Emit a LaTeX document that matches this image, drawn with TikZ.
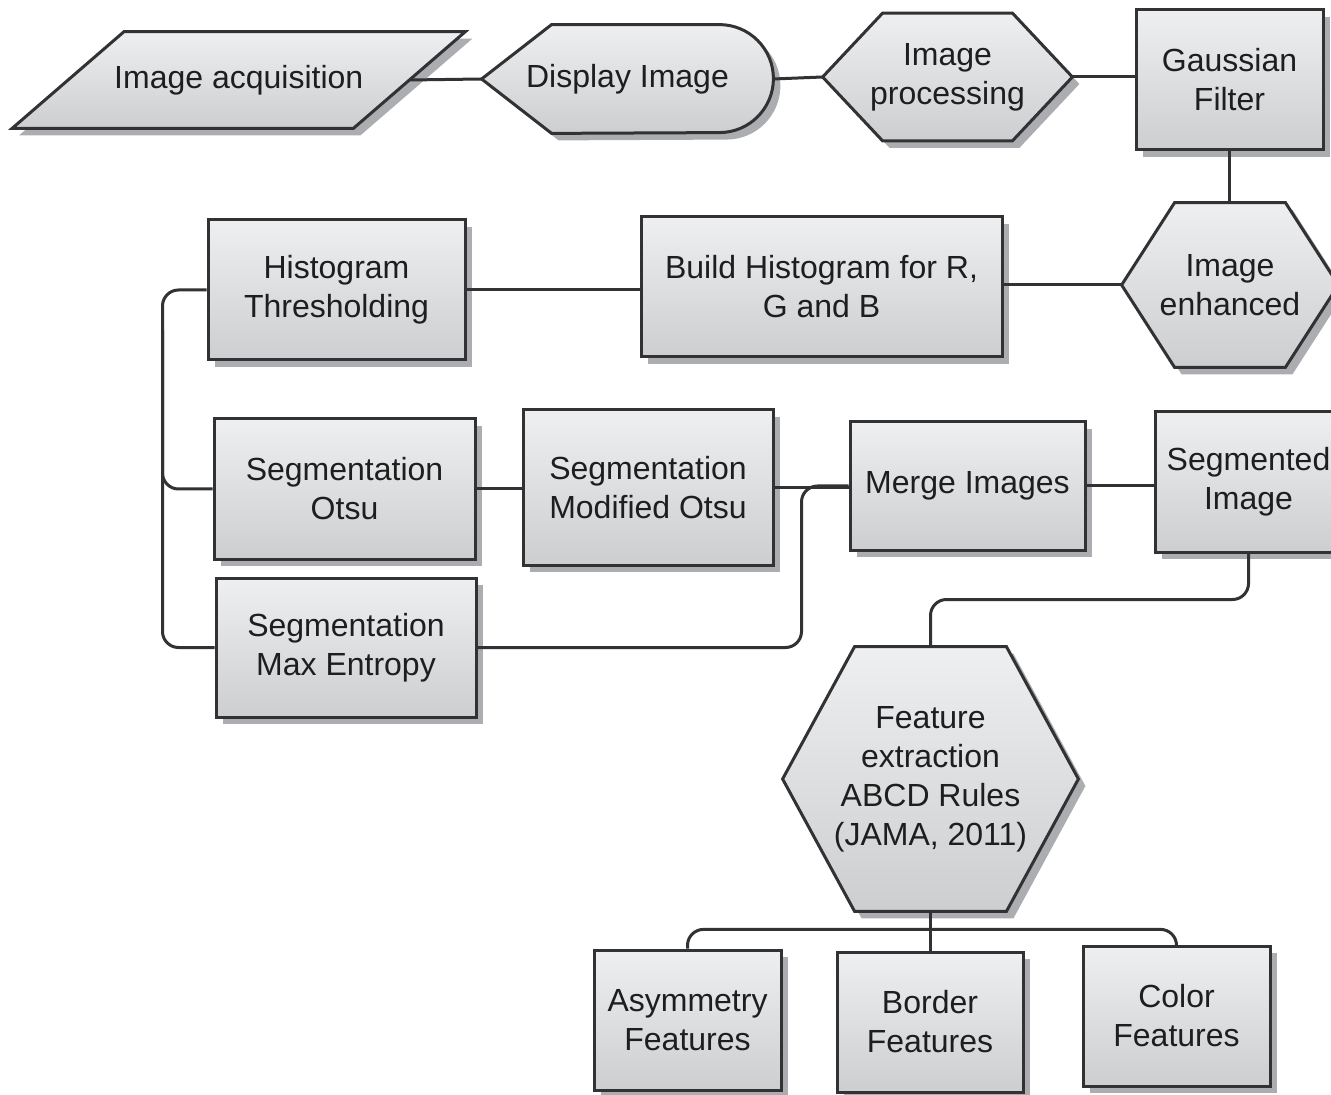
\documentclass[tikz,border=0pt]{standalone}
\usepackage{fontspec}
\setmainfont{Liberation Sans}
\usetikzlibrary{shadows,calc}
\definecolor{linegray}{RGB}{50,50,52}
\definecolor{topgray}{RGB}{238,239,240}
\definecolor{botgray}{RGB}{205,206,208}
\definecolor{shadowgray}{RGB}{172,173,176}
\definecolor{textgray}{RGB}{30,30,30}
\pgfdeclarelayer{canvas}
\pgfdeclarelayer{shapes}
\pgfsetlayers{canvas,shapes,main}
\tikzset{
  panel/.style={draw=linegray, line width=1.5pt, top color=topgray, bottom color=botgray,
    general shadow={fill=shadowgray, shadow xshift=3.5pt, shadow yshift=-3.5pt}},
  caption/.style={rectangle, align=center, inner sep=0pt, text=textgray,
    font=\fontsize{16}{19.5}\selectfont},
  box/.style={caption, panel},
  link/.style={draw=linegray, line width=1.5pt, rounded corners=8pt},
}
\begin{document}
\begin{tikzpicture}[x=0.5pt, y=-0.5pt]
\begin{pgfonlayer}{canvas}
  \fill[white] (0,0) rectangle (1331,1095);
\end{pgfonlayer}
\useasboundingbox (0,0) rectangle (1331,1095);

% ---- text of the non-rectangular steps ----
\node[caption, minimum width=170.25pt, minimum height=48pt] (acq) at (238.75,80) {Image acquisition};
\node[caption, minimum width=145.5pt, minimum height=54pt] (disp) at (627.5,79) {Display Image};
\node[caption, minimum width=124.5pt, minimum height=63.5pt] (proc) at (947.5,77) {Image\\processing};
\node[caption, minimum width=108pt, minimum height=82pt] (enh) at (1230,285) {Image\\enhanced};
\node[caption, minimum width=147.5pt, minimum height=132pt] (feat) at (930.5,779)
  {Feature\\extraction\\ABCD Rules\\(JAMA, 2011)};

% ---- outlines of the non-rectangular steps ----
\begin{pgfonlayer}{shapes}
  \path[panel] ([xshift=28pt]acq.north west) -- ([xshift=28pt]acq.north east)
    -- ([xshift=-28pt]acq.south east) -- ([xshift=-28pt]acq.south west) -- cycle;
  \path[panel] (disp.west) -- ([xshift=35pt]disp.north west) -- ([xshift=-27pt]disp.north east)
    arc[start angle=90, end angle=-90, radius=27pt] -- ([xshift=35pt]disp.south west) -- cycle;
  \path[panel] (proc.west) -- ([xshift=30pt]proc.north west) -- ([xshift=-30pt]proc.north east)
    -- (proc.east) -- ([xshift=-30pt]proc.south east) -- ([xshift=30pt]proc.south west) -- cycle;
  \path[panel] (enh.west) -- ([xshift=26.5pt]enh.north west) -- ([xshift=-26.5pt]enh.north east)
    -- (enh.east) -- ([xshift=-26.5pt]enh.south east) -- ([xshift=26.5pt]enh.south west) -- cycle;
  \path[panel] (feat.west) -- ([xshift=36pt]feat.north west) -- ([xshift=-36pt]feat.north east)
    -- (feat.east) -- ([xshift=-36pt]feat.south east) -- ([xshift=36pt]feat.south west) -- cycle;
\end{pgfonlayer}

% ---- rectangular steps ----
\node[box, minimum width=93.5pt, minimum height=70pt] (gauss) at (1229.5,80) {Gaussian\\Filter};
\node[box, minimum width=180.5pt, minimum height=70pt] (hist) at (821.5,287) {Build Histogram for R,\\G and B};
\node[box, minimum width=128.5pt, minimum height=70pt] (thr) at (336.5,290) {Histogram\\Thresholding};
\node[box, minimum width=130.5pt, minimum height=70pt] (otsu) at (344.5,489) {Segmentation\\Otsu};
\node[box, minimum width=125pt, minimum height=77.5pt] (mod) at (648,487.5) {Segmentation\\Modified Otsu};
\node[box, minimum width=130pt, minimum height=69.5pt] (maxe) at (346,647.5) {Segmentation\\Max Entropy};
\node[box, minimum width=117.5pt, minimum height=64pt] (merge) at (967.5,486) {Merge Images};
\node[box, minimum width=93.5pt, minimum height=70pt] (seg) at (1248.5,482) {Segmented\\Image};
\node[box, minimum width=93.5pt, minimum height=70pt] (asym) at (687.5,1020) {Asymmetry\\Features};
\node[box, minimum width=93pt, minimum height=70pt] (border) at (930,1022) {Border\\Features};
\node[box, minimum width=93.5pt, minimum height=70pt] (color) at (1176.5,1016) {Color\\Features};

% ---- connectors ----
\draw[link] (acq.east) -- (disp.west);
\draw[link] (disp.east) -- (proc.west);
\draw[link] (proc.east) -- (proc.east -| gauss.west);
\draw[link] (gauss.south) -- (gauss.south |- enh.north);
\draw[link] (enh.west) -- (enh.west -| hist.east);
\draw[link] (thr.east) -- (thr.east -| hist.west);
\coordinate (bus) at ([xshift=-22pt]thr.west);
\draw[link] (thr.west) -- (bus) |- (maxe.west);
\draw[link] ([yshift=-20pt]bus) |- (otsu.west);
\draw[link] (otsu.east) -- (otsu.east -| mod.west);
\draw[link] (mod.east) -- (mod.east -| merge.west);
\draw[link] (maxe.east) -| ([xshift=-23.5pt]merge.west) -- (merge.west);
\draw[link] (merge.east) -- (merge.east -| seg.west);
\draw[link] (seg.south) -- ++(0,46) -| (feat.north);
\coordinate (fb) at ($(feat.south)+(0,18)$);
\draw[link] (asym.north) |- (fb) -| (color.north);
\draw[link] (feat.south) -- (feat.south |- border.north);
\end{tikzpicture}
\end{document}
